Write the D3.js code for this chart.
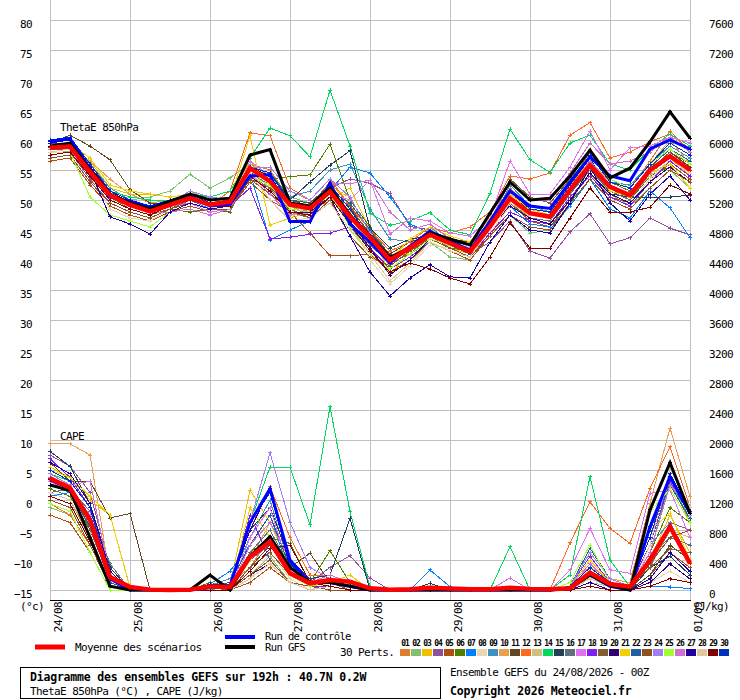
<!DOCTYPE html>
<html>
<head>
<meta charset="utf-8">
<script src="https://cdn.jsdelivr.net/npm/d3@7"></script>
<style>
  body { margin: 0; background: #fff; }
  svg { display: block; font-family: "DejaVu Sans Mono", monospace; }
</style>
</head>
<body>
<div id="chart"></div>
<script>
// Forecast steps (hours after 24/08 00Z) and axis labels
var hours = [0,6,12,18,24,30,36,42,48,54,60,66,72,78,84,90,96,102,108,114,120,126,132,138,144,150,156,162,168,174,180,186,192];
var dayHours = [0,24,48,72,96,120,144,168,192];
var dayLabels = ["24/08","25/08","26/08","27/08","28/08","29/08","30/08","31/08","01/09"];
var thetaTicks = [-15,-10,-5,0,5,10,15,20,25,30,35,40,45,50,55,60,65,70,75,80];
var capeTicks = [0,400,800,1200,1600,2000,2400,2800,3200,3600,4000,4400,4800,5200,5600,6000,6400,6800,7200,7600];
var pertNames = ["01","02","03","04","05","06","07","08","09","10","11","12","13","14","15","16","17","18","19","20","21","22","23","24","25","26","27","28","29","30"];
var pertColors = ["#e07b30","#80c070","#f0c000","#9050a0","#b05010","#508000","#0080ff","#e8d8b0","#4090c0","#e8a050",
                  "#604820","#ff6820","#d0c080","#00d860","#204058","#607080","#e070f0","#8020f0","#806030","#300070",
                  "#f0d000","#2060a0","#905020","#a080f0","#a0ff30","#d070d0","#2000a0","#e0c8a0","#800000","#0030c0"];

// ThetaE 850hPa (°C)
var thetaMean = [58.7,58.9,54.7,50.8,49.2,48.1,49.2,50.3,49.2,49.7,55.3, 53.1,49.2,48.6,51.4,47.2,43.8,40.0,42.0,44.2,42.8,41.4, 45.6,50.3,47.8,47.2,51.7,55.8,52.2,50.8,55.0,57.3,55.0];
var thetaCtrl = [59.8,60.2,55.2,50.5,49.8,48.8,49.8,50.6,49.0,49.3,54.0, 54.2,46.4,46.4,52.8,46.0,43.0,39.5,42.3,44.8,43.2,41.6, 46.5,51.5,49.0,48.6,53.0,57.2,54.0,53.2,58.5,60.0,58.5];
var thetaGfs = [59.0,59.5,55.0,51.0,49.5,48.5,49.8,51.0,50.0,50.3,57.5, 58.4,49.5,49.0,52.0,47.5,44.0,40.5,42.0,44.5,43.5,42.5, 47.8,53.0,50.0,50.3,54.0,58.3,53.7,55.3,59.7,64.7,60.3];
var thetaPerts = [
  [58.0,58.5,54.0,50.0,48.5,47.5,49.0,50.5,49.0,50.0,56.0, 55.0,50.0,49.0,53.0,49.0,44.0,40.5,42.5,45.0,43.0,42.0, 46.0,52.0,48.5,48.0,53.0,58.0,53.5,52.0,56.5,61.5,58.0],
  [58.5,58.0,55.5,51.5,50.0,50.5,51.5,54.3,52.0,53.7,56.0, 54.0,50.5,49.5,51.0,46.0,42.0,38.5,41.0,43.0,40.5,40.0, 44.0,47.5,44.5,45.0,49.0,55.5,51.0,49.0,52.0,55.0,52.0],
  [59.0,59.0,56.5,52.0,51.0,51.0,50.5,51.0,50.0,50.5,56.5, 53.0,47.0,48.0,50.0,52.0,45.0,37.5,41.5,44.5,42.0,41.0, 45.0,50.0,47.0,46.5,51.0,56.5,52.0,50.5,54.5,57.0,54.0],
  [57.5,58.0,53.5,49.5,48.0,47.0,48.5,49.5,48.5,49.0,54.0, 52.0,48.0,47.0,52.0,53.5,52.8,51.1,45.6,45.0,42.5,41.0, 43.0,46.5,41.5,40.3,44.7,47.7,42.7,43.7,47.0,45.3,44.2],
  [56.5,57.0,52.5,49.0,47.5,46.5,48.0,49.0,48.0,48.5,53.0, 50.0,48.0,44.5,40.7,40.7,41.0,38.0,40.0,43.0,41.5,40.0, 44.0,49.5,46.5,45.5,50.0,54.5,50.5,49.5,53.5,56.0,53.5],
  [58.0,58.5,54.5,50.5,48.5,47.5,48.5,48.0,48.5,48.0,54.5, 53.5,53.9,54.2,59.3,50.0,45.5,40.5,41.5,43.5,42.0,41.5, 45.5,50.5,47.5,47.0,51.5,55.0,52.0,50.0,54.0,55.5,53.0],
  [59.5,60.0,55.5,51.0,49.5,48.5,49.5,50.0,48.5,49.0,54.5, 43.3,45.0,46.5,51.5,55.5,54.5,50.5,46.0,44.5,43.5,41.5, 46.5,49.0,46.0,45.5,49.0,53.5,48.5,47.0,51.5,48.7,43.7],
  [58.0,58.0,54.0,48.5,47.0,46.5,48.5,50.0,49.0,49.0,54.0, 51.5,49.0,48.0,51.5,46.5,40.0,36.0,39.0,42.5,42.0,40.5, 44.5,49.0,47.0,46.0,50.5,54.0,51.0,49.5,53.5,56.5,54.5],
  [59.0,59.5,56.0,52.0,50.0,48.5,49.5,51.0,49.5,50.0,55.5, 54.5,50.5,51.5,55.0,56.0,48.5,43.5,43.0,45.5,43.0,42.5, 46.0,52.5,49.0,48.0,52.0,57.5,53.0,52.5,56.0,59.0,57.0],
  [58.5,59.0,56.5,53.5,51.0,49.5,50.0,51.0,49.5,49.5,55.0, 53.5,49.0,47.5,52.0,48.0,42.5,39.5,41.0,44.0,42.5,41.0, 45.0,50.0,48.5,48.0,52.5,56.5,53.0,52.0,56.0,60.0,56.0],
  [59.5,60.8,59.0,56.7,51.7,49.5,49.5,50.5,49.0,50.0,54.5, 52.5,50.0,49.5,52.5,48.5,44.5,41.0,43.0,44.0,43.5,43.0, 45.5,51.5,48.0,47.5,51.0,55.5,52.0,51.0,55.0,58.0,55.5],
  [58.5,59.0,55.0,50.5,49.0,48.0,49.0,50.5,49.0,51.5,61.2, 60.7,52.0,50.0,53.5,49.0,45.0,41.5,43.0,45.5,44.5,45.5, 48.0,54.0,53.5,54.5,60.8,62.9,57.0,58.0,59.7,61.0,58.5],
  [58.0,58.5,55.0,50.5,49.0,48.5,49.5,51.5,50.0,50.0,55.0, 52.0,48.5,48.0,50.5,47.0,43.0,39.0,41.5,44.5,43.0,41.5, 45.0,49.5,47.5,47.0,51.0,55.0,51.5,50.5,54.0,56.5,54.0],
  [58.5,59.0,55.5,51.5,50.5,50.0,50.0,51.0,50.5,51.5,57.0, 62.0,60.7,57.2,68.3,59.0,47.8,45.8,46.5,47.9,45.0,44.2, 51.1,61.8,56.7,54.6,59.5,60.8,56.0,55.0,58.5,61.0,59.0],
  [59.0,59.5,55.5,51.0,49.5,48.5,49.5,50.5,49.0,49.5,55.5, 54.5,50.0,53.0,55.8,58.2,45.3,42.0,43.5,44.0,43.5,42.5, 46.5,51.5,48.5,48.0,52.5,57.0,51.0,50.5,50.5,50.5,50.8],
  [58.5,58.5,54.5,50.5,49.0,48.0,49.0,50.0,49.5,49.5,54.5, 52.5,48.0,47.5,50.5,46.0,42.5,39.5,41.0,44.0,42.0,40.5, 45.0,49.5,47.0,46.5,51.0,55.0,51.5,50.0,54.5,57.0,55.0],
  [59.0,59.5,55.0,51.0,49.0,48.0,49.0,49.5,48.0,48.5,56.5, 54.0,47.5,48.0,51.0,50.0,53.3,44.3,47.0,46.5,44.5,44.0, 47.0,56.5,51.0,51.0,55.5,61.5,55.0,58.7,59.0,60.5,59.5],
  [58.5,59.0,54.5,50.0,48.5,47.5,48.5,49.5,48.5,49.0,52.0, 43.5,43.8,44.3,44.5,45.5,42.0,38.5,40.5,43.0,41.5,40.5, 44.5,48.0,46.5,46.0,50.5,54.0,50.5,49.0,53.0,56.5,54.0],
  [58.0,58.5,54.5,50.5,48.5,47.5,48.5,50.0,49.0,49.0,53.5, 52.0,49.5,48.5,51.0,49.0,44.0,40.5,42.0,44.5,43.0,41.5, 45.5,53.5,50.5,49.5,53.5,58.0,53.0,51.5,55.0,58.0,56.0],
  [60.0,60.5,55.5,51.5,49.5,48.0,49.5,50.5,49.0,49.5,55.5, 54.0,49.0,48.5,51.5,46.5,42.0,37.5,40.0,43.5,42.5,41.0, 45.5,49.0,47.0,46.0,50.0,54.5,51.0,49.5,53.0,55.5,53.0],
  [59.0,59.5,57.0,52.5,51.5,51.0,50.5,51.0,49.5,50.0,60.7, 45.8,47.0,49.0,52.0,50.5,44.5,40.0,43.5,45.5,44.0,43.0, 47.0,51.0,48.5,47.5,52.0,56.0,51.5,50.5,54.5,56.0,52.0],
  [59.5,59.5,55.0,51.0,49.5,48.5,49.0,50.5,49.5,49.5,55.0, 53.5,50.0,49.0,51.5,49.5,45.0,40.5,42.0,44.0,42.5,41.0, 45.5,50.5,47.5,47.0,52.0,56.0,52.5,51.0,55.5,58.5,56.5],
  [57.0,57.5,53.0,49.5,48.0,47.0,48.5,49.5,48.5,48.5,53.5, 51.0,48.5,47.0,50.0,44.0,40.5,39.0,41.5,43.5,42.0,40.5, 44.0,47.5,45.5,45.0,49.5,53.5,50.0,48.5,52.0,55.0,53.0],
  [58.5,59.0,55.0,51.0,49.5,48.5,49.5,51.5,50.5,50.0,55.5, 55.5,51.5,50.0,53.5,50.5,44.5,40.0,42.0,44.5,43.0,42.0, 46.0,50.5,48.0,47.5,52.0,56.5,52.5,51.0,54.5,57.5,55.0],
  [57.5,58.0,50.5,47.5,46.5,45.5,48.0,49.5,48.5,49.0,54.0, 52.5,48.5,48.0,51.0,45.5,41.0,38.5,41.0,43.5,42.5,41.5, 45.0,50.5,48.0,47.5,53.0,58.5,53.5,52.0,56.0,58.5,56.0],
  [59.0,59.0,55.0,50.5,49.0,48.0,48.0,48.5,47.5,48.5,54.5, 51.0,47.5,48.5,52.8,52.7,53.3,48.0,45.0,46.0,43.5,42.5, 46.5,53.0,50.0,50.0,54.5,59.5,56.0,56.5,58.0,60.5,58.0],
  [59.5,60.0,55.0,47.2,46.0,44.3,48.0,49.5,48.5,49.0,54.0, 51.5,48.0,48.0,50.5,44.0,38.0,34.0,37.0,39.2,37.2,37.0, 43.0,47.5,45.0,44.5,49.5,55.5,49.5,46.5,51.0,54.0,50.0],
  [58.0,58.5,54.5,50.0,48.5,47.5,49.0,50.5,49.5,49.5,54.5, 50.0,46.5,47.0,49.5,45.0,41.0,36.5,39.5,43.0,41.5,40.5, 45.0,49.5,47.5,47.0,51.5,56.0,52.0,51.0,55.0,57.0,55.0],
  [57.5,58.0,54.0,50.0,48.5,47.5,49.0,50.0,49.0,49.0,54.0, 51.5,48.0,47.5,50.5,46.0,41.5,38.0,39.5,38.5,37.0,36.0, 40.5,46.2,42.0,42.0,47.0,52.0,48.0,48.0,48.8,52.5,51.0],
  [60.0,60.5,56.0,51.5,50.0,49.0,50.0,51.0,49.5,50.0,55.5, 54.5,49.5,49.0,52.5,48.5,43.5,40.0,42.0,44.5,43.0,41.5, 46.0,51.5,48.5,48.0,52.5,57.5,53.0,52.0,56.0,59.5,57.5]
];

// CAPE (J/kg)
var capeMean = [1490,1360,930,173,40, 5,0,5,45,40, 444,644,222,89,133,111,22, 5,10,30,20,10,10,30,15,10, 22,231,80,44,400,844,356];
var capeCtrl = [1470,1350,950,150,0, 0,0,0,30,50, 900,1350,400,100,100,50,0, 0,0,0,0,0,0,0,0,0, 30,200,50,0,844,1511,1022];
var capeGfs = [1400,1330,700,50,0, 0,0,0,200,0, 450,711,300,100,100,50,0, 0,0,0,0,0,0,0,0,0, 20,200,60,0,1067,1698,1022];
var capePerts = [
  [1300,1200,700,100,0, 0,0,0,50,80, 300,700,250,50,100,50,0, 0,0,0,0,0,0,0,0,0, 50,300,100,50,700,1450,900],
  [1100,1000,600,50,0, 0,0,0,0,0, 200,450,100,0,50,0,0, 0,0,0,0,0,0,0,0,0, 0,200,50,0,300,800,400],
  [1640,1500,1200,1000,40, 0,0,0,30,60, 1333,900,300,100,50,0,0, 0,0,0,0,0,0,0,0,0, 50,150,50,0,400,1000,500],
  [1800,1650,1300,300,0, 0,0,0,50,100, 400,600,200,100,300,458,160, 0,0,0,0,0,0,0,0,0, 0,100,0,0,300,900,800],
  [1000,900,500,0,0, 0,0,0,0,0, 100,300,100,50,0,0,0, 0,0,0,0,0,0,0,0,0, 0,100,50,0,200,500,300],
  [1350,1250,800,150,0, 0,0,0,100,50, 500,700,622,100,524,100,0, 0,0,0,0,0,0,0,0,0, 50,350,100,50,500,1100,900],
  [1250,1300,900,200,0, 0,0,0,80,250, 600,1000,200,50,100,50,0, 0,0,267,44,0,0,0,0,0, 0,50,0,0,50,40,20],
  [1200,1100,700,100,0, 0,0,0,0,0, 150,500,150,0,100,50,0, 0,0,0,0,0,0,0,0,0, 0,50,0,0,100,250,100],
  [1450,1350,1000,300,0, 0,0,0,60,150, 700,1200,300,100,150,50,0, 0,0,40,0,0,0,0,0,0, 50,400,100,50,600,900,400],
  [1950,1950,1800,170,0, 0,0,0,0,0, 400,900,400,100,100,200,0, 0,0,0,0,0,0,0,0,0, 100,300,150,100,1156,2160,1244],
  [1700,1450,1450,960,1020, 0,0,0,0,0, 300,600,300,489,100,0,0, 0,0,0,0,0,0,0,0,0, 0,150,50,0,200,600,400],
  [1150,1000,600,100,0, 0,0,0,0,50, 800,1378,700,200,200,100,0, 0,0,0,0,0,0,0,0,0, 627,1178,822,622,1356,1911,1100],
  [1400,1300,900,200,0, 0,0,0,0,0, 200,400,100,0,50,0,0, 0,0,0,0,0,0,0,0,0, 0,100,50,0,400,800,700],
  [1550,1450,1100,250,0, 0,0,0,0,50, 900,1640,1640,867,2444,1044,40, 0,0,0,0,0,0,578,0,0, 200,1511,400,44,500,1450,950],
  [1850,1650,1150,300,0, 0,0,0,50,100, 800,1100,400,150,200,956,0, 0,0,89,0,0,0,0,0,0, 50,250,50,0,300,450,200],
  [1300,1350,1050,350,0, 0,0,0,0,0, 500,800,300,100,100,50,0, 0,0,0,0,0,0,0,0,0, 0,200,50,0,450,700,600],
  [1450,1300,1000,100,0, 0,0,0,0,0, 700,1100,250,100,200,100,0, 0,0,0,0,0,0,0,0,0, 267,822,267,222,1289,1333,700],
  [1750,1500,1100,200,0, 0,0,0,50,50, 1000,400,100,50,50,0,0, 0,0,0,0,0,0,0,0,0, 50,450,100,50,600,1450,1000],
  [1500,1400,800,150,0, 0,0,0,30,0, 300,500,200,100,100,0,0, 0,0,0,0,0,0,0,0,0, 50,250,100,50,300,550,500],
  [1500,1350,950,100,0, 0,0,0,0,0, 200,350,100,0,50,0,0, 0,0,0,0,0,0,0,0,0, 0,100,0,0,100,350,150],
  [1600,1500,1250,1000,30, 0,0,0,0,0, 1100,700,200,100,100,200,0, 0,0,0,0,0,0,0,0,0, 50,400,100,50,800,1022,400],
  [1400,1300,850,100,0, 0,0,0,60,100, 600,1000,300,50,150,100,0, 0,0,0,0,0,0,0,0,0, 50,556,150,50,800,1400,950],
  [1200,1100,600,50,0, 0,0,0,0,0, 200,400,100,50,0,0,0, 0,0,0,0,0,0,0,0,0, 0,150,50,0,350,700,800],
  [1550,1400,950,200,0, 0,0,0,0,0, 900,1831,900,300,150,100,0, 0,0,0,0,0,0,0,0,0, 50,500,150,50,700,1500,1000],
  [1150,1050,500,0,0, 0,0,0,0,0, 400,700,200,50,100,50,0, 0,0,0,0,0,0,0,0,0, 100,600,100,50,1044,1350,900],
  [1500,1400,1450,200,0, 0,0,0,0,0, 600,900,400,100,200,100,0, 0,0,0,0,0,0,160,0,0, 50,350,100,50,500,1400,1100],
  [1700,1550,1150,250,0, 0,0,0,80,50, 800,1350,300,100,150,50,0, 0,0,0,0,0,0,0,0,0, 0,100,0,0,150,500,250],
  [1300,1200,750,50,0, 0,0,0,0,0, 150,350,100,0,50,0,0, 0,0,0,0,0,0,0,0,0, 0,150,50,0,600,1622,1100],
  [1250,1150,650,50,0, 0,0,0,0,0, 250,550,600,100,50,0,0, 0,0,0,0,0,0,0,0,0, 0,50,0,0,50,150,100],
  [1600,1450,1100,150,0, 0,0,0,50,80, 900,1300,350,100,100,50,0, 0,0,0,0,0,0,0,0,0, 50,300,100,50,700,1550,1050]
];

// Set the dimensions of the plot area
var w = 740, h = 700;
var plot = { left: 50, right: 690, top: 20, bottom: 590, axis: 600 };

// Create svg element
var svg = d3.select("#chart")
  .append("svg")
    .attr("width", w)
    .attr("height", h);

// Create scale functions
var xScale = d3.scaleLinear().domain([0, 192]).range([plot.left, plot.right]);
var yTheta = d3.scaleLinear().domain([-15, 80]).range([plot.bottom, plot.top]);
var yCape = d3.scaleLinear().domain([0, 7600]).range([plot.bottom, plot.top]);

// Grid lines
var grid = svg.append("g").attr("shape-rendering", "crispEdges").attr("stroke", "#c0c0c0");
grid.selectAll("line.h").data(thetaTicks).enter().append("line")
  .attr("x1", plot.left).attr("x2", plot.right)
  .attr("y1", function(d) { return yTheta(d) + 0.5; })
  .attr("y2", function(d) { return yTheta(d) + 0.5; });
grid.selectAll("line.v").data(dayHours).enter().append("line")
  .attr("x1", function(d) { return xScale(d) + 0.5; })
  .attr("x2", function(d) { return xScale(d) + 0.5; })
  .attr("y1", 0).attr("y2", plot.axis);

// Bottom axis line
svg.append("line")
  .attr("x1", plot.left).attr("x2", plot.right + 1)
  .attr("y1", plot.axis + 0.5).attr("y2", plot.axis + 0.5)
  .attr("stroke", "#000").attr("shape-rendering", "crispEdges");

// Left axis (ThetaE)
var yAxisLeft = d3.axisLeft(yTheta).tickValues(thetaTicks).tickSize(0).tickPadding(0)
  .tickFormat(d3.format("d"));
svg.append("g")
  .attr("transform", "translate(32,0)")
  .call(yAxisLeft)
  .call(function(g) { g.select(".domain").remove(); })
  .selectAll("text")
    .attr("dy", 7.5)
    .attr("font-family", "DejaVu Sans Mono").attr("font-size", 11).attr("letter-spacing", -0.6).attr("fill", "#000");

// Right axis (CAPE)
var yAxisRight = d3.axisRight(yCape).tickValues(capeTicks).tickSize(0).tickPadding(0)
  .tickFormat(d3.format("d"));
svg.append("g")
  .attr("transform", "translate(709,0)")
  .call(yAxisRight)
  .call(function(g) { g.select(".domain").remove(); })
  .selectAll("text")
    .attr("dy", 7.5)
    .attr("font-family", "DejaVu Sans Mono").attr("font-size", 11).attr("letter-spacing", -0.6).attr("fill", "#000");

// Date axis, labels turned upright
var xAxis = d3.axisBottom(xScale).tickValues(dayHours).tickSize(0)
  .tickFormat(function(d, i) { return dayLabels[i]; });
svg.append("g")
  .attr("transform", "translate(0," + plot.axis + ")")
  .call(xAxis)
  .call(function(g) { g.select(".domain").remove(); })
  .selectAll("text")
    .attr("transform", "rotate(-90)")
    .attr("text-anchor", "end")
    .attr("x", -2).attr("y", 11.5).attr("dy", 0)
    .attr("font-family", "DejaVu Sans Mono").attr("font-size", 11).attr("letter-spacing", -0.6).attr("fill", "#000");

// Line generators
var thetaLine = d3.line()
  .x(function(d, i) { return xScale(hours[i]); })
  .y(function(d) { return yTheta(d); });
var capeLine = d3.line()
  .x(function(d, i) { return xScale(hours[i]); })
  .y(function(d) { return yCape(d); });

// Draw one series with small cross markers
function drawSeries(values, line, yScale, color, width, crisp) {
  var g = svg.append("g");
  g.append("path")
    .datum(values)
    .attr("d", line)
    .attr("fill", "none")
    .attr("stroke", color)
    .attr("stroke-width", width)
    .attr("shape-rendering", crisp ? "crispEdges" : "auto");
  g.selectAll("path.mark").data(values).enter().append("path")
    .attr("class", "mark")
    .attr("d", "M-2,0H2M0,-2V2")
    .attr("transform", function(d, i) { return "translate(" + xScale(hours[i]) + "," + yScale(d) + ")"; })
    .attr("stroke", color)
    .attr("stroke-width", 1)
    .attr("shape-rendering", "crispEdges");
}

// Perturbations
thetaPerts.forEach(function(s, k) { drawSeries(s, thetaLine, yTheta, pertColors[k], 1, true); });
capePerts.forEach(function(s, k) { drawSeries(s, capeLine, yCape, pertColors[k], 1, true); });

// Control run, GFS run and ensemble mean
drawSeries(thetaCtrl, thetaLine, yTheta, "#0000ff", 3, false);
drawSeries(capeCtrl, capeLine, yCape, "#0000ff", 3, false);
drawSeries(thetaGfs, thetaLine, yTheta, "#000000", 3, false);
drawSeries(capeGfs, capeLine, yCape, "#000000", 3, false);
drawSeries(thetaMean, thetaLine, yTheta, "#ff0000", 4.5, false);
drawSeries(capeMean, capeLine, yCape, "#ff0000", 4.5, false);

// Texts inside and around the plot
function label(x, y, str, bold, size) {
  return svg.append("text")
    .attr("x", x).attr("y", y)
    .attr("font-family", "DejaVu Sans Mono")
    .attr("font-size", size || 11)
    .attr("font-weight", bold ? "bold" : "normal")
    .attr("letter-spacing", bold ? -0.2 : -0.6)
    .attr("fill", "#000")
    .text(str);
}
label(60, 131, "ThetaE 850hPa");
label(60, 440, "CAPE");
label(20, 610, "(°c)");
label(693, 610, "(J/kg)");

// Legend
var legend = svg.append("g");
legend.append("line").attr("x1", 35).attr("x2", 65).attr("y1", 647).attr("y2", 647).attr("stroke", "#ff0000").attr("stroke-width", 5);
legend.append("line").attr("x1", 225).attr("x2", 255).attr("y1", 637).attr("y2", 637).attr("stroke", "#0000ff").attr("stroke-width", 4);
legend.append("line").attr("x1", 225).attr("x2", 255).attr("y1", 647).attr("y2", 647).attr("stroke", "#000000").attr("stroke-width", 4);
label(75, 651, "Moyenne des scénarios");
label(265, 640, "Run de contrôle", false, 10.5);
label(265, 651, "Run GFS", false, 10.5);
label(340, 656, "30 Perts.");

legend.selectAll("rect").data(pertColors).enter().append("rect")
  .attr("x", function(d, i) { return 400 + i * 11; })
  .attr("y", 649)
  .attr("width", 10)
  .attr("height", 7)
  .attr("fill", function(d) { return d; });
legend.selectAll("text.num").data(pertNames).enter().append("text")
  .attr("class", "num")
  .attr("x", function(d, i) { return 405 + i * 11; })
  .attr("y", 646)
  .attr("text-anchor", "middle")
  .attr("font-family", "DejaVu Sans Mono")
  .attr("font-size", 8)
  .attr("font-weight", "bold")
  .attr("letter-spacing", -1)
  .text(function(d) { return d; });

// Title box
svg.append("rect")
  .attr("x", 20.5).attr("y", 667.5).attr("width", 420).attr("height", 31)
  .attr("fill", "none").attr("stroke", "#000");
label(30, 681, "Diagramme des ensembles GEFS sur 192h : 40.7N 0.2W", true, 11.5);
label(30, 695, "ThetaE 850hPa (°C) , CAPE (J/kg)");
label(450, 676, "Ensemble GEFS du 24/08/2026 - 00Z");
label(450, 695, "Copyright 2026 Meteociel.fr", true, 11.5);
</script>
</body>
</html>
